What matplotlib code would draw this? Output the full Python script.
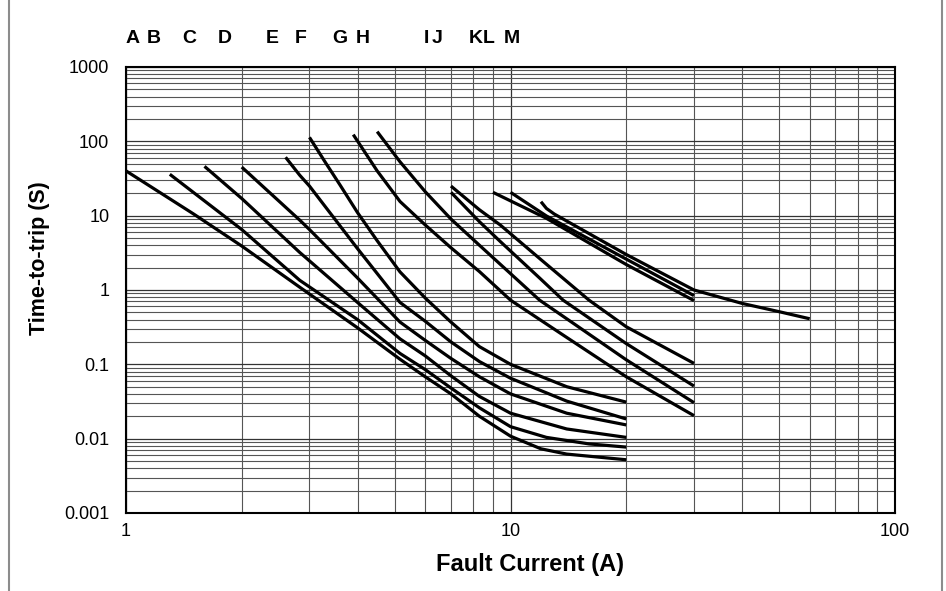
import matplotlib
matplotlib.use("Agg")
import matplotlib.pyplot as plt
from matplotlib.lines import Line2D
from matplotlib.ticker import LogLocator, FixedLocator, NullFormatter

# curve data: fault current (A) and time-to-trip (s)
curve_names = ["A", "B", "C", "D", "E", "F", "G", "H", "I", "J", "K", "L", "M"]

amps_A = [1, 1.5, 2, 2.83, 4, 5.16, 6, 7, 8.3, 10, 12, 14, 20]
secs_A = [40, 10.5, 3.9, 1.09, 0.31, 0.117, 0.068, 0.04, 0.02, 0.0108, 0.0073, 0.0062, 0.0052]
amps_B = [1.3, 2, 2.83, 4, 5.16, 6, 7, 8.3, 10, 12.4, 16, 20]
secs_B = [36, 6.5, 1.35, 0.4, 0.14, 0.085, 0.048, 0.026, 0.0145, 0.0104, 0.0085, 0.0077]
amps_C = [1.6, 2, 2.83, 4, 5.16, 6, 7, 8.3, 10, 14, 20]
secs_C = [46, 17, 3.2, 0.68, 0.22, 0.13, 0.07, 0.037, 0.022, 0.0135, 0.0104]
amps_D = [2, 2.83, 3, 4, 5.16, 6, 7, 8.3, 10, 14, 20]
secs_D = [45, 8.7, 6.5, 1.45, 0.37, 0.21, 0.12, 0.068, 0.04, 0.022, 0.0153]
amps_E = [2.6, 2.83, 3, 4, 5.16, 6, 7, 8.3, 10, 14, 20]
secs_E = [61, 35, 25, 3.6, 0.68, 0.38, 0.2, 0.109, 0.065, 0.032, 0.0184]
amps_F = [3, 3.3, 3.6, 4, 4.5, 5.16, 6, 7, 8.3, 10, 14, 20]
secs_F = [113, 52, 26, 11, 4.6, 1.75, 0.78, 0.37, 0.173, 0.1, 0.05, 0.031]
amps_G = [3.9, 4.5, 5.16, 6, 7, 8.3, 10, 14, 20, 30]
secs_G = [123, 40, 15.5, 7.5, 3.7, 1.77, 0.73, 0.23, 0.068, 0.0204]
amps_H = [4.5, 5.16, 6, 7, 8.3, 10, 11.9, 14, 20, 30]
secs_H = [135, 53, 21, 9, 4.0, 1.66, 0.73, 0.41, 0.115, 0.0305]
amps_I = [7, 8.3, 9.4, 11.9, 13.7, 20, 30]
secs_I = [20.6, 8.3, 4.5, 1.45, 0.73, 0.19, 0.051]
amps_J = [7, 8.3, 9.4, 12, 16, 20, 30]
secs_J = [25, 12, 7.5, 2.56, 0.73, 0.32, 0.103]
amps_K = [9, 10, 12.4, 20, 30]
secs_K = [20.6, 15.8, 9.2, 2.2, 0.72]
amps_L = [10, 12.4, 20, 30]
secs_L = [20.6, 9.9, 2.6, 0.84]
amps_M = [12, 12.4, 13, 20, 30, 40, 50, 60]
secs_M = [15.4, 12.5, 10.5, 3.0, 1.0, 0.66, 0.51, 0.41]

all_amps = [amps_A, amps_B, amps_C, amps_D, amps_E, amps_F, amps_G,
            amps_H, amps_I, amps_J, amps_K, amps_L, amps_M]
all_secs = [secs_A, secs_B, secs_C, secs_D, secs_E, secs_F, secs_G,
            secs_H, secs_I, secs_J, secs_K, secs_L, secs_M]

# where the letters sit above the plot (in amps)
label_amps = [1.04, 1.18, 1.46, 1.81, 2.4, 2.84, 3.59, 4.14, 6.06, 6.44, 8.1, 8.79, 10.1]

y_ticks = [0.001, 0.01, 0.1, 1, 10, 100, 1000]
y_tick_labels = ["0.001", "0.01", "0.1", "1", "10", "100", "1000"]
x_ticks = [1, 10, 100]
x_tick_labels = ["1", "10", "100"]

plt.rcParams['font.family'] = ['Liberation Sans', 'DejaVu Sans']

fig = plt.figure(figsize=(9.46, 5.91), dpi=100)
ax = fig.add_axes([0.1332, 0.132, 0.8129, 0.7547])

for amps, secs in zip(all_amps, all_secs):
    ax.plot(amps, secs, color='black', lw=2.3, solid_capstyle='butt',
            solid_joinstyle='round', zorder=3)

ax.set_xscale('log')
ax.set_yscale('log')
ax.set_xlim(1, 100)
ax.set_ylim(0.001, 1000)

ax.xaxis.set_major_locator(FixedLocator(x_ticks))
ax.set_xticklabels(x_tick_labels)
ax.xaxis.set_minor_locator(LogLocator(base=10, subs=range(2, 10)))
ax.xaxis.set_minor_formatter(NullFormatter())
ax.yaxis.set_major_locator(FixedLocator(y_ticks))
ax.set_yticklabels(y_tick_labels)
ax.yaxis.set_minor_locator(LogLocator(base=10, subs=range(2, 10)))
ax.yaxis.set_minor_formatter(NullFormatter())

ax.grid(which='major', color='#333333', lw=0.9, zorder=1)
ax.grid(which='minor', color='#555555', lw=0.8, zorder=1)
ax.tick_params(which='both', length=0)
ax.tick_params(axis='y', pad=12, labelsize=13)
ax.tick_params(axis='x', pad=7, labelsize=13)
for s in ax.spines.values():
    s.set_linewidth(1.5)
    s.set_color('black')

fig.text(530 / 946, 1 - 565 / 591, 'Fault Current (A)', ha='center', va='center',
         fontsize=17, fontweight='bold')
fig.text(40 / 946, 1 - 258 / 591, 'Time-to-trip (S)', ha='center', va='center',
         rotation=90, fontsize=15.5, fontweight='bold')

for name, xa in zip(curve_names, label_amps):
    ax.text(xa, 2450, name, ha='center', va='center', fontsize=14,
            fontweight='bold', clip_on=False)

# grey page frame on the sides
fig.add_artist(Line2D([8.5 / 946, 8.5 / 946], [0, 1], color='#8c8c8c', lw=1.5))
fig.add_artist(Line2D([942 / 946, 942 / 946], [0, 1], color='#8c8c8c', lw=1.5))

fig.savefig('out.png', dpi=100)
